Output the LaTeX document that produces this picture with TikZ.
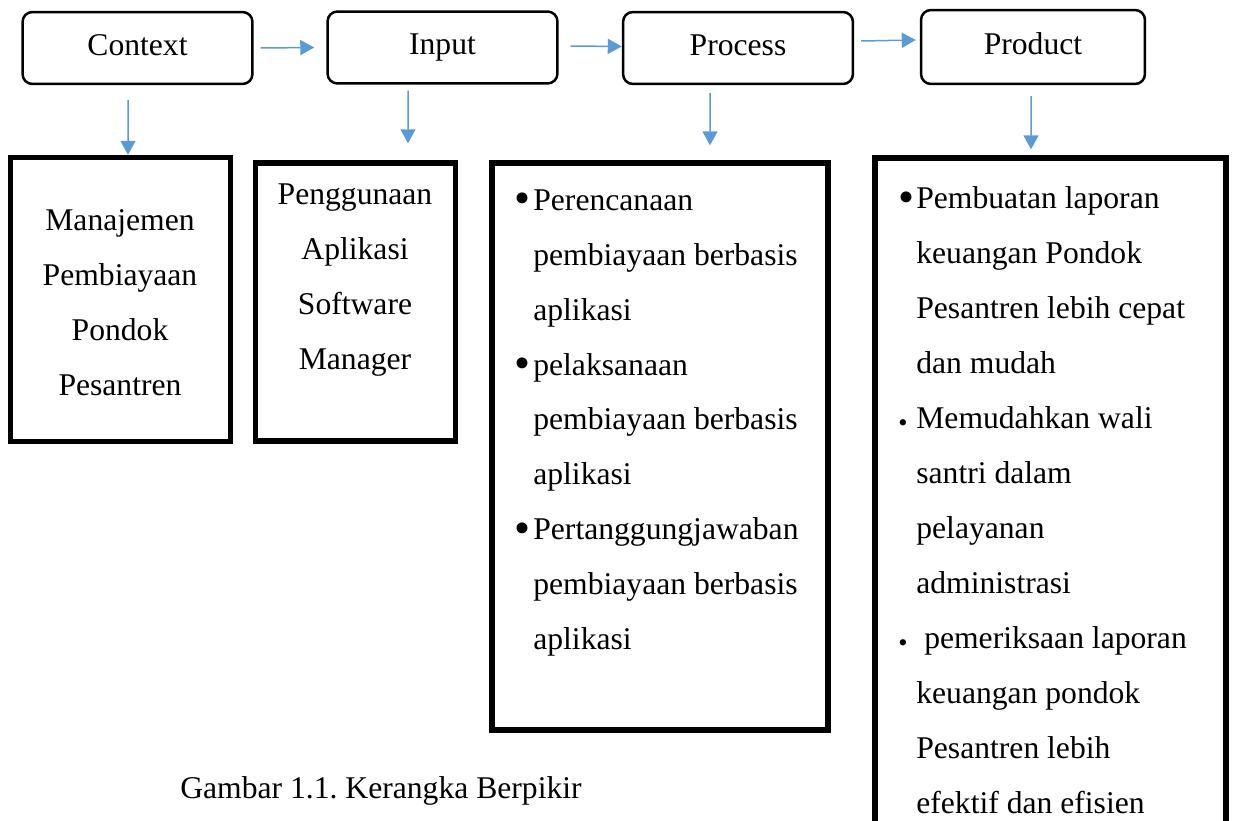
\documentclass[tikz,border=0pt]{standalone}
\usepackage{fontspec}
\setmainfont{Liberation Serif}
\frenchspacing
\usetikzlibrary{arrows.meta, positioning}
\definecolor{arrowblue}{HTML}{5B9BD5}
% bullets used in the lists
\newcommand{\bigbul}[1]{\makebox[#1][l]{\raisebox{-2.2pt}{\fontsize{26}{26}\selectfont\textbullet}}}
\newcommand{\smallbul}[1]{\makebox[#1][l]{\raisebox{-1.8pt}{\fontsize{15}{15}\selectfont\textbullet}}}

\begin{document}
\begin{tikzpicture}[
    x=0.02cm, y=-0.02cm,
    stagebox/.style={rectangle, draw, rounded corners=0.2cm, line width=0.05cm,
                     minimum width=4.6cm, minimum height=1.44cm, text height=12pt, text depth=4pt,
                     font=\fontsize{18}{22}\selectfont},
    framebox/.style={rectangle, draw, line width=0.11cm, inner sep=0pt},
    boxtext/.style={inner sep=0pt, font=\fontsize{18}{31.3}\selectfont},
    arr/.style={-{Triangle[length=0.28cm, width=0.3cm]}, arrowblue, line width=0.03cm},
]
    \clip (0,0) rectangle (1234,821);

    % ── CIPP stages ──
    \node[stagebox] (ctx)  at (137.5, 48) {Context};
    \node[stagebox] (inp)  at (442.5, 47.5) {Input};
    \node[stagebox] (proc) at (738, 48) {Process};
    \node[stagebox, minimum width=4.48cm, minimum height=1.48cm] (prod) at (1033, 47) {Product};

    % ── Detail frames ──
    \node[framebox, minimum width=4.4cm, minimum height=5.68cm]  (b1) at (120.5, 299.5) {};
    \node[framebox, minimum width=4cm, minimum height=5.56cm] (b2) at (355.5, 302) {};
    \node[framebox, minimum width=6.72cm, minimum height=11.34cm] (b3) at (660, 446.5) {};
    \node[framebox, minimum width=7.02cm, minimum height=14cm]   (b4) at (1050.5, 508) {};

    % Frame texts
    \node[boxtext, align=center] (t1) at (120, 303)
        {Manajemen\\Pembiayaan\\Pondok\\Pesantren};
    \node[boxtext, align=center] (t2) at (355, 280)
        {Penggunaan\\Aplikasi\\Software\\Manager};
    \node[boxtext, align=left, anchor=west] (t3) at (514, 423)
        {\bigbul{0.38cm}Perencanaan\\
         \hspace*{0.38cm}pembiayaan berbasis\\
         \hspace*{0.38cm}aplikasi\\
         \bigbul{0.38cm}pelaksanaan\\
         \hspace*{0.38cm}pembiayaan berbasis\\
         \hspace*{0.38cm}aplikasi\\
         \bigbul{0.38cm}Pertanggungjawaban\\
         \hspace*{0.38cm}pembiayaan berbasis\\
         \hspace*{0.38cm}aplikasi};
    \node[boxtext, align=left, anchor=west] (t4) at (898, 500)
        {\bigbul{0.36cm}Pembuatan laporan\\
         \hspace*{0.36cm}keuangan Pondok\\
         \hspace*{0.36cm}Pesantren lebih cepat\\
         \hspace*{0.36cm}dan mudah\\
         \smallbul{0.36cm}Memudahkan wali\\
         \hspace*{0.36cm}santri dalam\\
         \hspace*{0.36cm}pelayanan\\
         \hspace*{0.36cm}administrasi\\
         \smallbul{0.36cm} pemeriksaan laporan\\
         \hspace*{0.36cm}keuangan pondok\\
         \hspace*{0.36cm}Pesantren lebih\\
         \hspace*{0.36cm}efektif dan efisien};

    % Caption
    \node[boxtext, anchor=base west] (cap) at (180, 798) {Gambar 1.1. Kerangka Berpikir};

    % Arrows: stage to stage
    \draw[arr] ([xshift=0.14cm]ctx.east) -- ([xshift=-0.24cm]inp.west);
    \draw[arr] ([xshift=0.24cm, yshift=0.03cm]inp.east) -- ([yshift=0.03cm]proc.west);
    \draw[arr] ([xshift=0.14cm, yshift=0.14cm]proc.east) -- ([xshift=-0.08cm, yshift=0.14cm]prod.west);

    % Arrows: stage to frame
    \draw[arr] ([xshift=-0.19cm, yshift=-0.3cm]ctx.south) -- ([xshift=0.15cm]b1.north);
    \draw[arr, shorten >=0.34cm] ([xshift=-0.69cm, yshift=-0.12cm]inp.south) -- ([xshift=1.05cm]b2.north);
    \draw[arr, shorten >=0.3cm] ([xshift=-0.56cm, yshift=-0.16cm]proc.south) -- ([xshift=1cm]b3.north);
    \draw[arr, shorten >=0.12cm] ([xshift=-0.04cm, yshift=-0.22cm]prod.south) -- ([xshift=-0.39cm]b4.north);

\end{tikzpicture}
\end{document}
